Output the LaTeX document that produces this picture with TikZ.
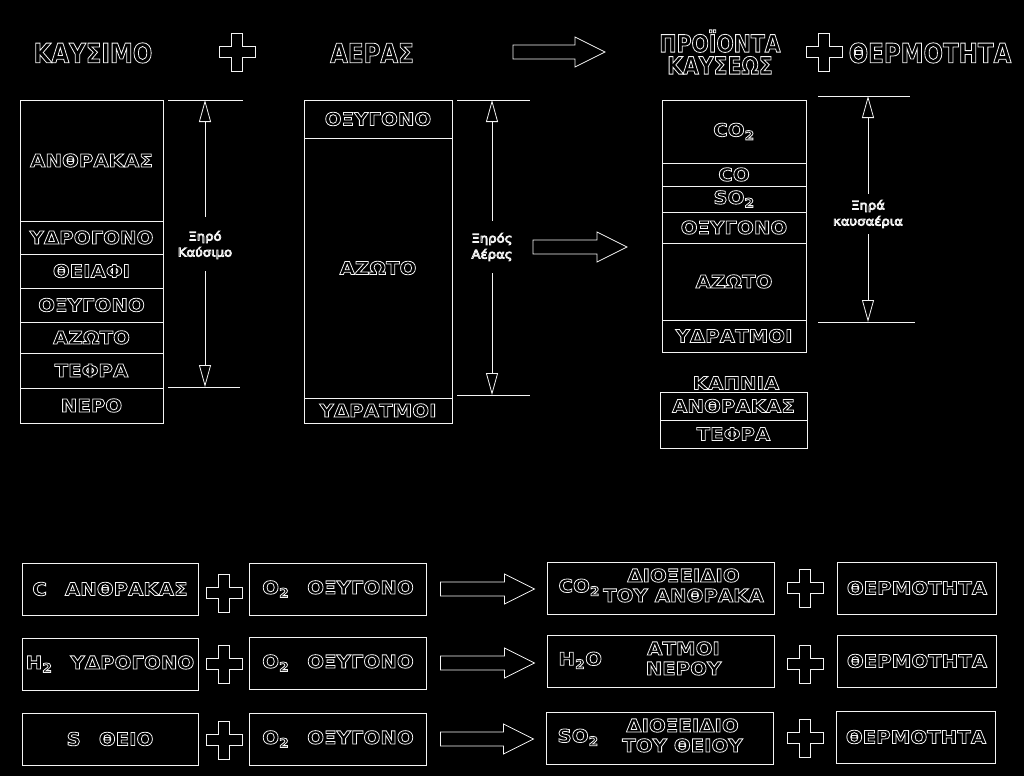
\documentclass[tikz,border=0pt]{standalone}
\usepackage{fontspec}
\setmainfont{DejaVu Sans}
\newfontfamily\kbold{DejaVu Sans}[FakeStretch=1.1]
\newfontfamily\khdfont{DejaVu Sans}[FakeStretch=0.85]
\newfontfamily\ksmall{DejaVu Sans}[FakeStretch=1.1]
\usetikzlibrary{arrows.meta,positioning,calc}
\definecolor{kbg}{HTML}{000000}
\definecolor{kink}{HTML}{F4F4F4}
% outlined glyphs, as in the scan
\newcommand{\kout}{\special{pdf:literal direct 1 Tr}}
\tikzset{
  kseg/.style={draw=kink, inner sep=0pt, outer sep=0pt, text=kink,
    font=\kbold\bfseries\fontsize{18}{20}\selectfont\kout},
  kbox/.style={kseg, minimum height=52pt},
  khead/.style={inner sep=0pt, text=kink,
    font=\khdfont\bfseries\fontsize{27}{24}\selectfont\kout},
  kdimlbl/.style={inner sep=2pt, text=kink, align=center,
    font=\ksmall\fontsize{12}{16}\selectfont\kout},
  kdim/.style={-{Triangle[open,length=22pt,width=12pt]}, draw=kink, line width=0.8pt},
  ktick/.style={draw=kink, line width=0.8pt},
  kblk/.style={draw=kink, line width=0.8pt, line join=miter},
  kplus/.pic={\draw[draw=kink, line width=0.8pt] (-5.5,-19) -- (5.5,-19) -- (5.5,-5.5)
    -- (18,-5.5) -- (18,5.5) -- (5.5,5.5) -- (5.5,19) -- (-5.5,19) -- (-5.5,5.5)
    -- (-18,5.5) -- (-18,-5.5) -- (-5.5,-5.5) -- cycle;},
}
% outlined block arrow from #1 to #2 (same height)
\newcommand{\kblock}[2]{\draw[kblk] let \p1=#1, \p2=#2 in
  (\x1,\y1+7pt) -- (\x2-30pt,\y1+7pt) -- (\x2-30pt,\y1+15pt) -- (\x2,\y1)
  -- (\x2-30pt,\y1-15pt) -- (\x2-30pt,\y1-7pt) -- (\x1,\y1-7pt) -- cycle;}
\newcommand{\kchem}[2]{\makebox[45pt][l]{#1}\makebox[160pt]{\begin{tabular}{@{}c@{}}#2\end{tabular}}}

\begin{document}
\begin{tikzpicture}[x=1pt, y=-1pt, line width=0.8pt]
  \path[use as bounding box, fill=kbg] (0,0) rectangle (1024,776);

  % headline
  \node[khead] (fuel) at (93,53) {ΚΑΥΣΙΜΟ};
  \pic at (237,52) {kplus};
  \node[khead] (air) at (372,53) {ΑΕΡΑΣ};
  \coordinate (toptail) at (513,52);
  \coordinate (tophead) at (605,52);
  \kblock{(toptail)}{(tophead)}
  \node[khead, align=center, font=\khdfont\bfseries\fontsize{24}{22}\selectfont\kout] (prod) at (720,52) {ΠΡΟΪΟΝΤΑ\\ΚΑΥΣΕΩΣ};
  \pic at (824,52) {kplus};
  \node[khead] (heat) at (930,53) {ΘΕΡΜΟΤΗΤΑ};

  % fuel column
  \node[kseg, minimum width=143pt, minimum height=121pt, anchor=north west] (fc) at (20,100) {ΑΝΘΡΑΚΑΣ};
  \node[kseg, minimum width=143pt, minimum height=33pt, below=0pt of fc] (fh) {ΥΔΡΟΓΟΝΟ};
  \node[kseg, minimum width=143pt, minimum height=34pt, below=0pt of fh] (fs) {ΘΕΙΑΦΙ};
  \node[kseg, minimum width=143pt, minimum height=34pt, below=0pt of fs] (fo) {ΟΞΥΓΟΝΟ};
  \node[kseg, minimum width=143pt, minimum height=31pt, below=0pt of fo] (fn) {ΑΖΩΤΟ};
  \node[kseg, minimum width=143pt, minimum height=35pt, below=0pt of fn] (fa) {ΤΕΦΡΑ};
  \node[kseg, minimum width=143pt, minimum height=35pt, below=0pt of fa] (fw) {ΝΕΡΟ};
  \draw[ktick] (168,100) -- (243,100);
  \draw[ktick] (168,387) -- (240,387);
  \coordinate (ftop) at (205,100);
  \coordinate (fbot) at (205,387);
  \node[kdimlbl] (fdry) at (205,245) {Ξηρό\\Καύσιμο};
  \draw[kdim] (fdry.north) ++(0,-12) -- (ftop);
  \draw[kdim] (fdry.south) ++(0,10) -- (fbot);

  % air column
  \node[kseg, minimum width=148pt, minimum height=38pt, anchor=north west] (ao) at (304,100) {ΟΞΥΓΟΝΟ};
  \node[kseg, minimum width=148pt, minimum height=260pt, below=0pt of ao] (an) {ΑΖΩΤΟ};
  \node[kseg, minimum width=148pt, minimum height=25pt, below=0pt of an] (aw) {ΥΔΡΑΤΜΟΙ};
  \draw[ktick] (457,100) -- (530,100);
  \draw[ktick] (457,395) -- (530,395);
  \coordinate (atop) at (492,100);
  \coordinate (abot) at (492,395);
  \node[kdimlbl] (adry) at (492,247) {Ξηρός\\Αέρας};
  \draw[kdim] (adry.north) ++(0,-10) -- (atop);
  \draw[kdim] (adry.south) ++(0,10) -- (abot);
  \coordinate (midtail) at (533,247);
  \coordinate (midhead) at (627,247);
  \kblock{(midtail)}{(midhead)}

  % flue gas column
  \node[kseg, minimum width=144pt, minimum height=63pt, anchor=north west] (rc) at (662,100) {CO\textsubscript{2}};
  \node[kseg, minimum width=144pt, minimum height=23pt, below=0pt of rc] (rco) {CO};
  \node[kseg, minimum width=144pt, minimum height=26pt, below=0pt of rco] (rso) {SO\textsubscript{2}};
  \node[kseg, minimum width=144pt, minimum height=31pt, below=0pt of rso] (ro) {ΟΞΥΓΟΝΟ};
  \node[kseg, minimum width=144pt, minimum height=77pt, below=0pt of ro] (rn) {ΑΖΩΤΟ};
  \node[kseg, minimum width=144pt, minimum height=32pt, below=0pt of rn] (rw) {ΥΔΡΑΤΜΟΙ};
  \draw[ktick] (818,96) -- (910,96);
  \draw[ktick] (818,322) -- (915,322);
  \coordinate (rtop) at (868,96);
  \coordinate (rbot) at (868,322);
  \node[kdimlbl] (rdry) at (868,214) {Ξηρά\\καυσαέρια};
  \draw[kdim] (rdry.north) ++(0,-4) -- (rtop);
  \draw[kdim] (rdry.south) ++(0,4) -- (rbot);
  \node[kseg, draw=none] (smoke) at (736,383) {ΚΑΠΝΙΑ};
  \node[kseg, minimum width=147pt, minimum height=28pt, anchor=north west] (sc) at (660,392) {ΑΝΘΡΑΚΑΣ};
  \node[kseg, minimum width=147pt, minimum height=28pt, below=0pt of sc] (sa) {ΤΕΦΡΑ};

  % reactions
  \node[kbox, minimum width=176pt] (c1) at (110,589) {C\quad ΑΝΘΡΑΚΑΣ};
  \node[kbox, minimum width=177pt] (o1) at (338,589) {O\textsubscript{2}\quad ΟΞΥΓΟΝΟ};
  \node[kbox, minimum width=227pt] (p1) at (661,588) {\kchem{CO\textsubscript{2}}{ΔΙΟΞΕΙΔΙΟ\\ΤΟΥ ΑΝΘΡΑΚΑ}};
  \node[kbox, minimum width=159pt] (q1) at (917,588) {ΘΕΡΜΟΤΗΤΑ};
  \node[kbox, minimum width=176pt] (c2) at (110,664) {H\textsubscript{2}\quad ΥΔΡΟΓΟΝΟ};
  \node[kbox, minimum width=177pt] (o2) at (338,663) {O\textsubscript{2}\quad ΟΞΥΓΟΝΟ};
  \node[kbox, minimum width=227pt] (p2) at (661,661) {\kchem{H\textsubscript{2}O}{ΑΤΜΟΙ\\ΝΕΡΟΥ}};
  \node[kbox, minimum width=159pt] (q2) at (917,661) {ΘΕΡΜΟΤΗΤΑ};
  \node[kbox, minimum width=176pt] (c3) at (110,739) {S\quad ΘΕΙΟ};
  \node[kbox, minimum width=177pt] (o3) at (338,739) {O\textsubscript{2}\quad ΟΞΥΓΟΝΟ};
  \node[kbox, minimum width=227pt] (p3) at (660,738) {\kchem{SO\textsubscript{2}}{ΔΙΟΞΕΙΔΙΟ\\ΤΟΥ ΘΕΙΟΥ}};
  \node[kbox, minimum width=159pt] (q3) at (916,737) {ΘΕΡΜΟΤΗΤΑ};
  \pic at (224,593) {kplus};
  \pic at (224,664) {kplus};
  \pic at (224,740) {kplus};
  \pic at (805,588) {kplus};
  \pic at (805,664) {kplus};
  \pic at (805,738) {kplus};
  \kblock{($(o1.east)+(14,0)$)}{($(p1.west |- o1.east)+(-13,0)$)}
  \kblock{($(o2.east)+(14,0)$)}{($(p2.west |- o2.east)+(-13,0)$)}
  \kblock{($(o3.east)+(14,0)$)}{($(p3.west |- o3.east)+(-13,0)$)}
\end{tikzpicture}
\end{document}
